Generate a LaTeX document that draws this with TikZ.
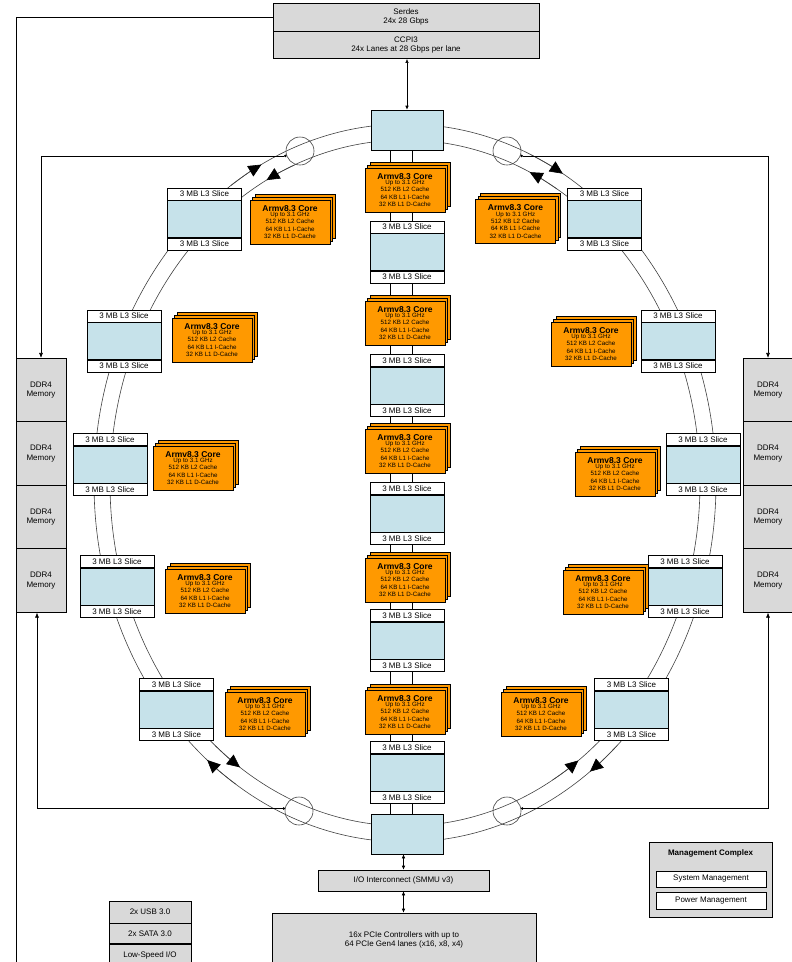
\documentclass[tikz,border=0pt]{standalone}
\usepackage{fontspec}
\setmainfont{Liberation Sans}
\usetikzlibrary{arrows.meta,shadows,backgrounds}

\definecolor{coreColor}{RGB}{255,153,0}
\definecolor{sliceColor}{RGB}{198,226,234}
\definecolor{boxColor}{RGB}{217,217,217}

\tikzset{
  grayblock/.style={draw, fill=boxColor, align=center, inner sep=0pt, font=\fontsize{8}{9.5}\selectfont},
  slicemid/.style={draw, fill=sliceColor, minimum width=74pt, minimum height=37pt, inner sep=0pt},
  slicebar/.style={draw, fill=white, minimum width=74pt, minimum height=12pt, inner sep=0pt, font=\fontsize{8}{8}\selectfont},
  ringstop/.style={draw, fill=sliceColor, minimum width=72pt, minimum height=40pt, inner sep=0pt},
  armcore/.style={draw, fill=coreColor, minimum width=80pt, minimum height=44pt, inner sep=0pt, align=center,
    font=\fontsize{6.2}{7.4}\selectfont,
    double copy shadow={shadow xshift=2.5pt, shadow yshift=3pt, fill=coreColor, draw=black}},
  hop/.style={draw=black!75, circle, minimum size=28pt, inner sep=0pt},
  ring/.style={draw=black!75, line width=0.6pt},
  ringtip/.style={ring, -{Triangle[length=13pt,width=12pt,black]}},
  ddrlink/.style={{Circle[length=2.5pt]}-{Latex[length=5pt,width=4pt]}},
  iolink/.style={{Latex[length=4pt,width=3.5pt]}-{Latex[length=4pt,width=3.5pt]}}
}

\newcommand{\coretext}{{\fontsize{8.5}{8}\selectfont\bfseries Armv8.3 Core}\\[-2pt]Up to 3.1 GHz\\512 KB L2 Cache\\64 KB L1 I-Cache\\32 KB L1 D-Cache}

\newcommand{\lthree}[2]{%
  \node[slicemid] (#1) at (#2) {};
  \node[slicebar, anchor=south] (#1t) at (#1.north) {3 MB L3 Slice};
  \node[slicebar, anchor=north] (#1b) at (#1.south) {3 MB L3 Slice};
}

\begin{document}
\begin{tikzpicture}[x=1pt, y=-1pt, line width=0.6pt]
  \useasboundingbox (0,0) rectangle (792,962);
  \coordinate (ringc) at (405,483);
  \coordinate (xl) at (390,0);
  \coordinate (xr) at (412,0);

  % Serdes / CCPI3
  \node[grayblock, minimum width=266pt, minimum height=28pt] (serdes) at (406,17) {Serdes\\24x 28 Gbps};
  \node[grayblock, minimum width=266pt, minimum height=27pt, anchor=north] (ccpi) at (serdes.south) {CCPI3\\24x Lanes at 28 Gbps per lane};

  % ring stops, middle column
  \node[ringstop] (ringTop) at (407,130) {};
  \node[armcore] (c1) at (405,190) {\coretext};
  \lthree{sA}{407,252}
  \node[armcore] (c2) at (405,323) {\coretext};
  \lthree{sB}{407,385.5}
  \node[armcore] (c3) at (405,451) {\coretext};
  \lthree{sC}{407,513.5}
  \node[armcore] (c4) at (405,580) {\coretext};
  \lthree{sD}{407,640.5}
  \node[armcore] (c5) at (405,712) {\coretext};
  \lthree{sE}{407,772.5}
  \node[ringstop] (ringBot) at (407,834) {};

  % ring stops, left side
  \lthree{sL1}{204.5,219}
  \lthree{sL2}{124,341}
  \lthree{sL3}{110,464.5}
  \lthree{sL4}{117,586.5}
  \lthree{sL5}{176.5,709.5}
  \node[armcore] (cL1) at (290,222) {\coretext};
  \node[armcore] (cL2) at (212,340) {\coretext};
  \node[armcore] (cL3) at (193,468) {\coretext};
  \node[armcore] (cL4) at (205,591) {\coretext};
  \node[armcore] (cL5) at (265,714) {\coretext};

  % ring stops, right side
  \lthree{sR1}{604.5,219}
  \lthree{sR2}{678,341}
  \lthree{sR3}{703,464.5}
  \lthree{sR4}{685,586.5}
  \lthree{sR5}{631.5,709.5}
  \node[armcore] (cR1) at (515.5,221.5) {\coretext};
  \node[armcore] (cR2) at (591,344) {\coretext};
  \node[armcore] (cR3) at (615,474) {\coretext};
  \node[armcore] (cR4) at (603,592) {\coretext};
  \node[armcore] (cR5) at (541,714) {\coretext};

  % DDR4
  \foreach \i/\y in {1/390,2/453.5,3/517,4/580.5} {
    \node[grayblock, minimum width=50pt, minimum height=63.5pt] (ddrL\i) at (41,\y) {DDR4\\Memory};
    \node[grayblock, minimum width=50pt, minimum height=63.5pt] (ddrR\i) at (768,\y) {DDR4\\Memory};
  }

  % IO
  \node[grayblock, minimum width=171pt, minimum height=21pt] (ioNode) at (403.5,880.5) {I/O Interconnect (SMMU v3)};
  \node[grayblock, minimum width=264pt, minimum height=54pt] (pcie) at (404,940) {16x PCIe Controllers with up to\\64 PCIe Gen4 lanes (x16, x8, x4)};
  \node[grayblock, minimum width=82pt, minimum height=22pt] (usb) at (150,912) {2x USB 3.0};
  \node[grayblock, minimum width=82pt, minimum height=20pt, anchor=north] (sata) at (usb.south) {2x SATA 3.0};
  \node[grayblock, minimum width=82pt, minimum height=22pt, anchor=north] (lsio) at (sata.south) {Low-Speed I/O};

  % Management
  \node[grayblock, minimum width=123pt, minimum height=75pt] (mgmt) at (710.5,879.5) {};
  \node[font=\fontsize{8}{9}\selectfont\bfseries] (mgmtTitle) at (710.5,853) {Management Complex};
  \node[draw, fill=white, line width=1pt, minimum width=110pt, minimum height=16pt, font=\fontsize{8}{9}\selectfont] (sysMgmt) at (711,879) {System Management};
  \node[draw, fill=white, line width=1pt, minimum width=110pt, minimum height=17pt, font=\fontsize{8}{9}\selectfont] (pwrMgmt) at (711,900.5) {Power Management};

  % hops on the ring
  \node[hop] (hopTL) at (300,151) {};
  \node[hop] (hopTR) at (507,151) {};
  \node[hop] (hopBL) at (299,811) {};
  \node[hop] (hopBR) at (507,811) {};

  \begin{scope}[on background layer]
    % ring
    \draw[ring] (ringc) ellipse [x radius=311, y radius=359];
    \draw[ring] (ringc) ellipse [x radius=295, y radius=343];
    % middle column links
    \foreach \a/\b in {ringTop/c1, c1/sAt, sAb/c2, c2/sBt, sBb/c3, c3/sCt, sCb/c4, c4/sDt, sDb/c5, c5/sEt, sEb/ringBot} {
      \draw (\a.south -| xl) -- (\b.north -| xl);
      \draw (\a.south -| xr) -- (\b.north -| xr);
    }
  \end{scope}

  % ring direction
  \draw[ringtip] ([shift={(-66:311 and 359)}]ringc) arc[start angle=-66, end angle=-59.5, x radius=311, y radius=359];
  \draw[ringtip] ([shift={(-59:295 and 343)}]ringc) arc[start angle=-59, end angle=-65, x radius=295, y radius=343];
  \draw[ringtip] ([shift={(236:311 and 359)}]ringc) arc[start angle=236, end angle=242.5, x radius=311, y radius=359];
  \draw[ringtip] ([shift={(248:295 and 343)}]ringc) arc[start angle=248, end angle=242, x radius=295, y radius=343];
  \draw[ringtip] ([shift={(123:311 and 359)}]ringc) arc[start angle=123, end angle=129.5, x radius=311, y radius=359];
  \draw[ringtip] ([shift={(130:295 and 343)}]ringc) arc[start angle=130, end angle=124, x radius=295, y radius=343];
  \draw[ringtip] ([shift={(47:311 and 359)}]ringc) arc[start angle=47, end angle=53.5, x radius=311, y radius=359];
  \draw[ringtip] ([shift={(60:295 and 343)}]ringc) arc[start angle=60, end angle=54, x radius=295, y radius=343];

  % Links
  \draw[iolink] (ccpi.south -| ringTop) -- (ringTop.north);
  \draw[iolink] (ioNode.north |- ringBot.south) -- (ioNode.north);
  \draw[iolink] (ioNode.south) -- (pcie.north -| ioNode);
  \draw[ddrlink] (hopTL.200) -| (ddrL1.north);
  \draw[ddrlink] (hopBL.170) -| ([xshift=-4pt]ddrL4.south);
  \draw[ddrlink] (hopTR.-20) -| (ddrR1.north);
  \draw[ddrlink] (hopBR.10) -| (ddrR4.south);
  \draw (serdes.west) -| (16,970);
\end{tikzpicture}
\end{document}
